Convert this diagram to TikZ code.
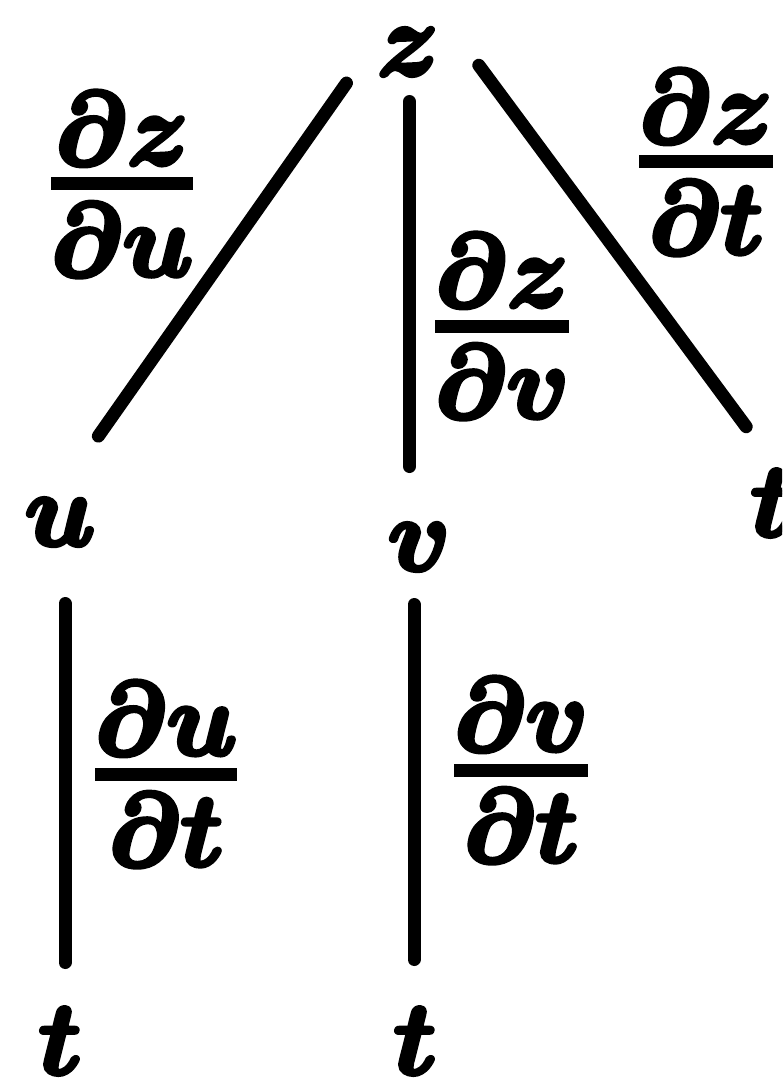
\documentclass[tikz,border=0pt]{standalone}
\DeclareFontFamily{OML}{cmm}{\skewchar\font127 }
\DeclareFontShape{OML}{cmm}{m}{it}{<->cmmi10}{}
\DeclareFontShape{OML}{cmm}{b}{it}{<->cmmib10}{}
\DeclareFontFamily{OMS}{cmsy}{\skewchar\font48 }
\DeclareFontShape{OMS}{cmsy}{m}{n}{<->cmsy10}{}
\DeclareFontShape{OMS}{cmsy}{b}{n}{<->cmbsy10}{}
\DeclareFontFamily{OMX}{cmex}{}
\DeclareFontShape{OMX}{cmex}{m}{n}{<->cmex10}{}
\usepackage{amsmath}
\usetikzlibrary{calc}
\newcommand{\heavy}{\special{pdf:literal direct 2 Tr 2.2 w 1 j}}
\newcommand{\pfrac}[2]{\genfrac{}{}{6.5pt}{1}{\textstyle\partial #1}{\textstyle\partial #2}}
\newcommand{\bm}[1]{{\heavy\boldmath$#1$}}
\tikzset{
  lbl/.style={inner sep=0pt, font=\fontsize{52}{58}\selectfont},
  edge/.style={line width=6.5pt, line cap=round},
}
\begin{document}
\begin{tikzpicture}[x=0.5pt,y=-0.5pt]
\fill[white] (0,0) rectangle (782,1081);
\useasboundingbox (0,0) rectangle (782,1081);
\clip (0,0) rectangle (782,1081);
% variables
\node[lbl] (z)  at (408,52)   {\bm{z}};
\node[lbl] (u)  at (60,522)   {\bm{u}};
\node[lbl] (v)  at (419,547)  {\bm{v}};
\node[lbl] (t0) at (772,503)  {\bm{t}};
\node[lbl] (t1) at (60,1041)  {\bm{t}};
\node[lbl] (t2) at (415,1041) {\bm{t}};
% derivative labels
\node[lbl] (zu) at (122,184) {\bm{\pfrac{z}{u}}};
\node[lbl] (zv) at (502,326) {\bm{\pfrac{z}{v}}};
\node[lbl] (zt) at (706,162) {\bm{\pfrac{z}{t}}};
\node[lbl] (ut) at (166,774) {\bm{\pfrac{u}{t}}};
\node[lbl] (vt) at (521,770) {\bm{\pfrac{v}{t}}};
% connectors
\draw[edge, shorten <=19pt, shorten >=52.5pt] ($(z)+(-39.7,0)$) -- ($(u)+(-22,0)$);
\draw[edge, shorten <=24.75pt, shorten >=40.25pt] ($(z)+(1.5,0)$) -- ($(v)+(-9.5,0)$);
\draw[edge, shorten <=8.25pt, shorten >=47.45pt] ($(z)+(61,0)$) -- ($(t0)+(30.6,0)$);
\draw[edge, shorten <=40.75pt, shorten >=39.25pt] ($(u)+(5,0)$) -- ($(t1)+(5,0)$);
\draw[edge, shorten <=28.75pt, shorten >=40.75pt] ($(v)+(-5,0)$) -- ($(t2)+(-1,0)$);
\end{tikzpicture}
\end{document}
